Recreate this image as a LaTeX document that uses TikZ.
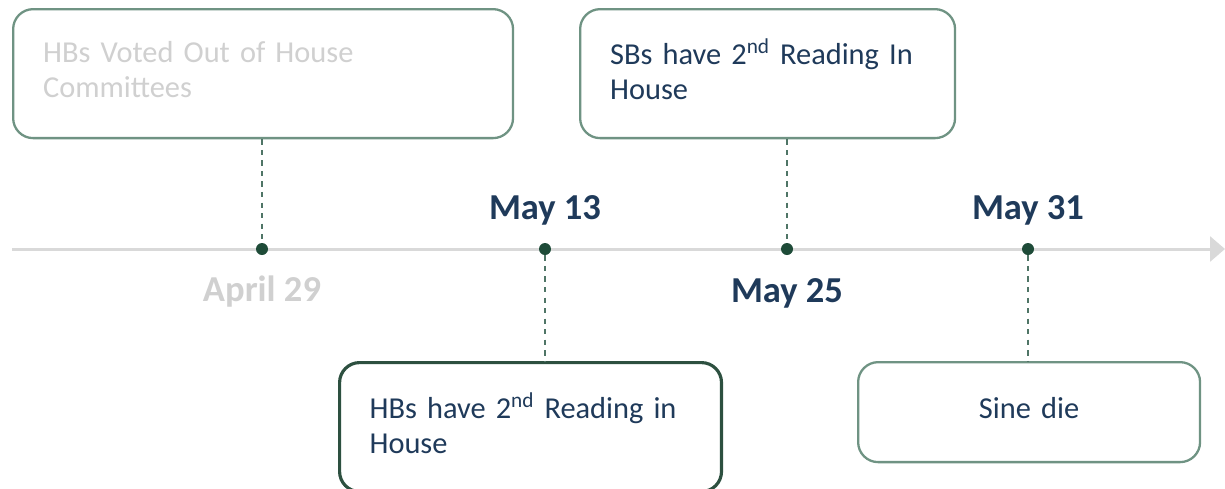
\documentclass[tikz,border=0pt]{standalone}
\usepackage{fontspec}
\setmainfont{Carlito}
\usetikzlibrary{arrows.meta}
\definecolor{sage}{HTML}{6F9383}
\definecolor{pine}{HTML}{2D5040}
\definecolor{navy}{HTML}{1F3A5A}
\definecolor{fog}{HTML}{D0D0D0}
\definecolor{railgray}{HTML}{D9D9D9}
\definecolor{dotgreen}{HTML}{1E4B38}
\definecolor{stemgreen}{HTML}{4F7566}
\newcommand\padbelow{\endgraf\vspace*{0.16cm}}
\begin{document}
\begin{tikzpicture}[x=0.02cm, y=-0.02cm,
  event/.style={draw=sage, line width=1.3pt, rounded corners=0.4cm, fill=white,
    minimum height=2.58cm, inner xsep=0.6cm, align=left, anchor=north west,
    font=\fontsize{17.3}{20}\selectfont, text=navy,
    execute at end node=\padbelow},
  dot/.style={circle, fill=dotgreen, inner sep=0pt, minimum size=0.24cm},
  stem/.style={draw=stemgreen, dashed, line width=0.7pt},
  date/.style={font=\fontsize{20.8}{24}\selectfont\bfseries, text=navy}]
\useasboundingbox (0,0) rectangle (1225,488);
\clip (0,0) rectangle (1225,488);
% time line
\coordinate (start) at (12,249);
\coordinate (end) at (1225,249);
\draw [railgray, line width=1.7pt, -{Triangle[length=0.3cm, width=0.5cm]}] (start) -- (end);
% events
\node [event, text width=8.8cm, text=fog] (voted) at (12,8) {HBs Voted Out of House\\Committees};
\node [event, text width=6.3cm] (senate) at (579,8) {SBs have 2\textsuperscript{nd} Reading In\\House};
\node [event, text width=6.44cm, draw=pine, line width=1.8pt] (house) at (338,361) {HBs have 2\textsuperscript{nd} Reading in\\House};
\node [event, text width=5.64cm, align=center, minimum height=2cm] (sine) at (857,361) {Sine die};
% dots on the line
\node [dot] (apr) at (262,249) {};
\node [dot] (may13) at (545,249) {};
\node [dot] (may25) at (787,249) {};
\node [dot] (may31) at (1028,249) {};
% stems
\draw [stem] (apr |- voted.south) -- (apr);
\draw [stem] (may13) -- (may13 |- house.north);
\draw [stem] (may25 |- senate.south) -- (may25);
\draw [stem] (may31) -- (may31 |- sine.north);
% dates
\node [date, text=fog] (d29) at (262,292) {April 29};
\node [date] (d13) at (545,210) {May 13};
\node [date] (d25) at (787,293) {May 25};
\node [date] (d31) at (1028,210) {May 31};
\end{tikzpicture}
\end{document}
